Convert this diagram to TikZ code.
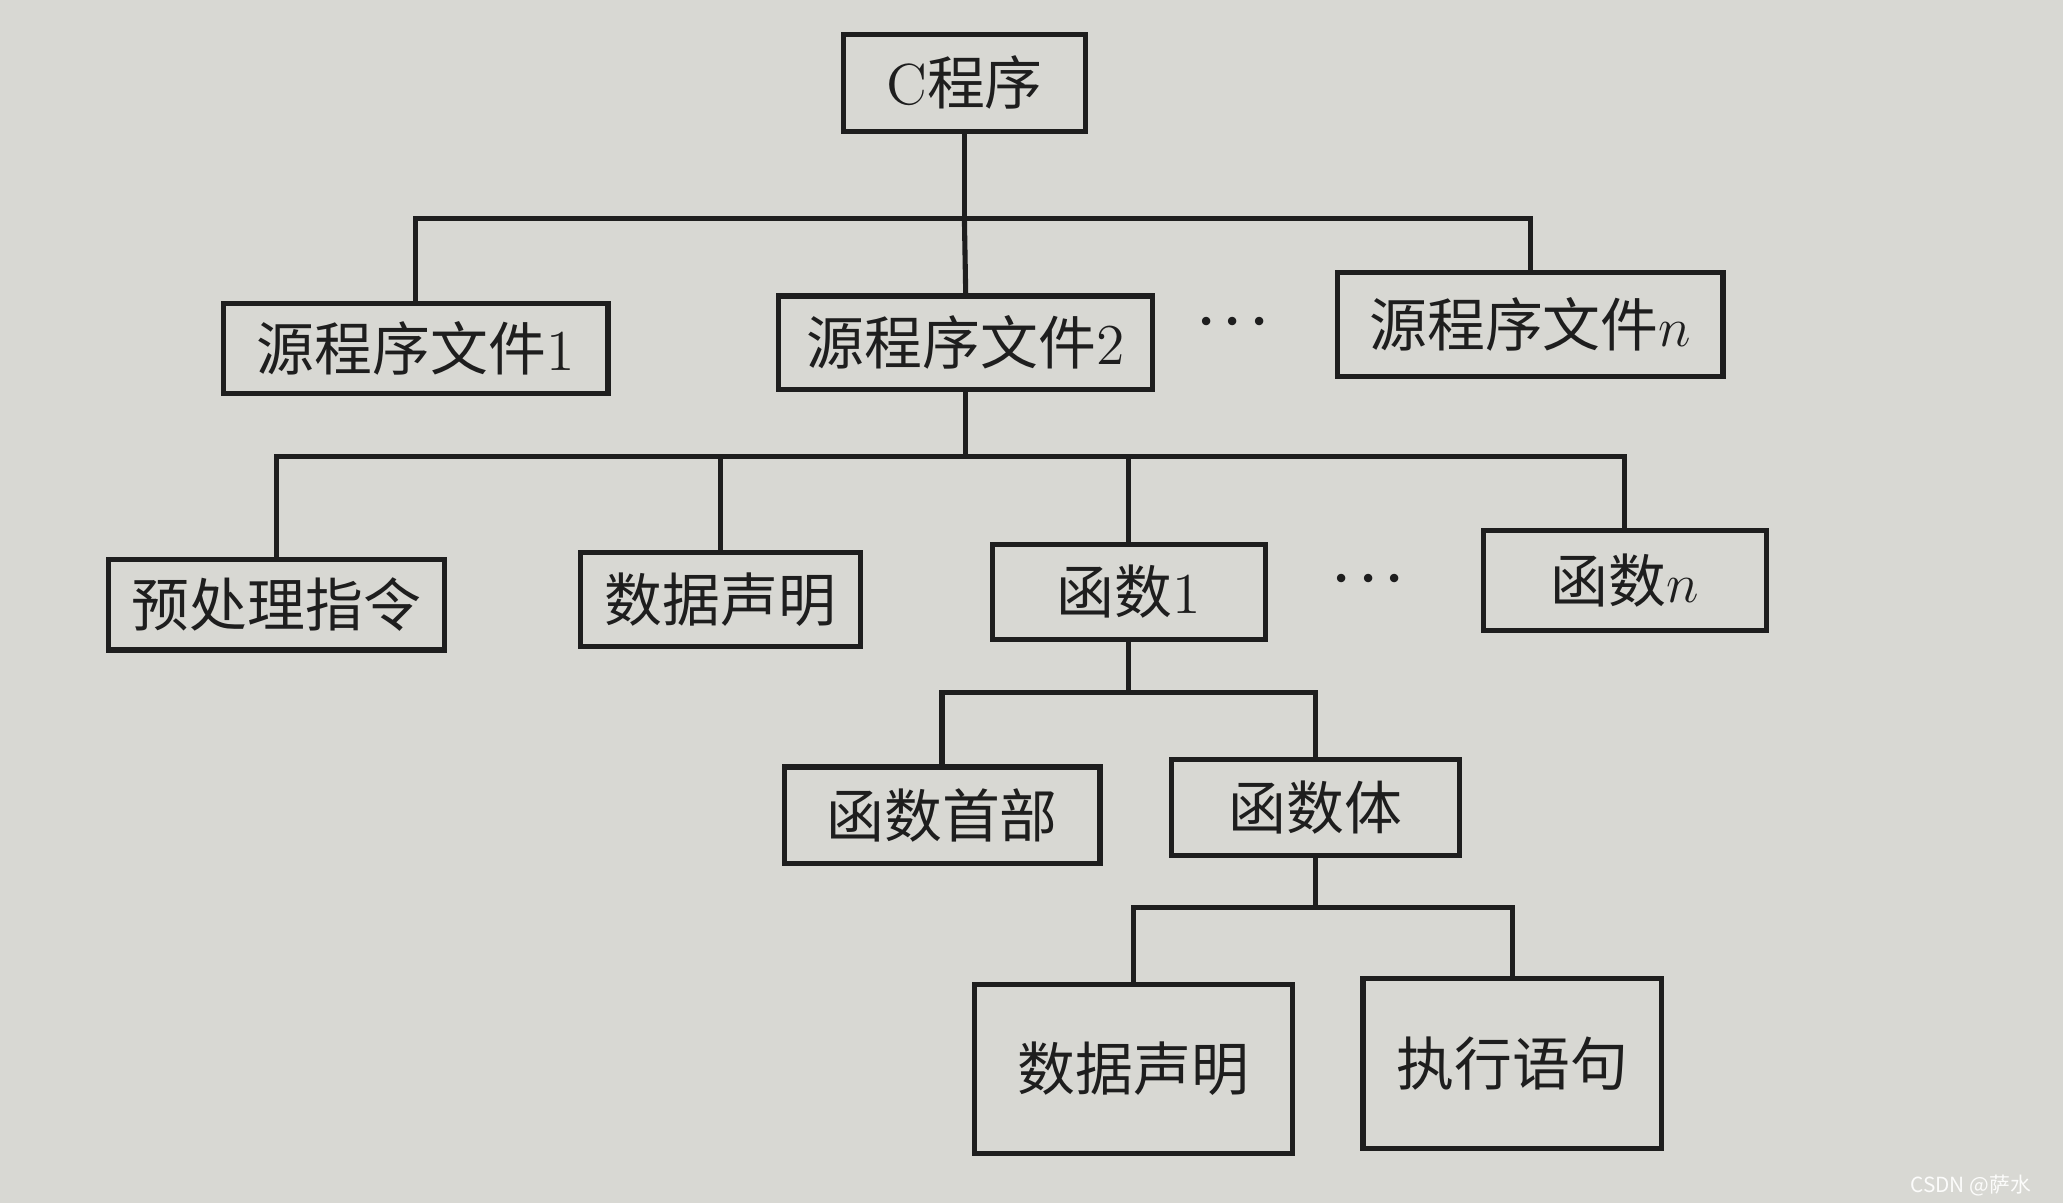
\documentclass[tikz,border=0pt]{standalone}
\usepackage{fontspec}
\newfontfamily\cjk{Noto Sans CJK SC}
\definecolor{paper}{RGB}{216,216,211}
\definecolor{ink}{RGB}{30,30,30}
\tikzset{
  box/.style={draw=ink, line width=1.1pt, fill=paper, inner sep=0pt, text=ink,
    font=\fontsize{12.5}{14}\selectfont},
  wire/.style={draw=ink, line width=1.1pt},
  dotsstyle/.style={text=ink, font=\fontsize{17}{19}\selectfont},
}
\newcommand{\mydots}{$\cdot\mkern-3mu\cdot\mkern-3mu\cdot$}
\begin{document}
\begin{tikzpicture}[x=0.01cm, y=-0.01cm]
\fill[paper] (0,0) rectangle (1568,914);
\useasboundingbox (0,0) rectangle (1568,914);

% nodes
\node[box, minimum width=1.84cm, minimum height=0.74cm] (c) at (733,63) {C{\cjk 程序}};
\node[box, minimum width=2.92cm, minimum height=0.68cm] (f1) at (316,265) {{\cjk 源程序文件}1};
\node[box, minimum width=2.84cm, minimum height=0.71cm] (f2) at (734,260.5) {{\cjk 源程序文件}2};
\node[box, minimum width=2.93cm, minimum height=0.79cm] (fn) at (1163,246.5) {{\cjk 源程序文件}$n$};
\node[dotsstyle] (dots1) at (937,246) {\mydots};

\node[box, minimum width=2.55cm, minimum height=0.69cm] (p) at (210,459.5) {\cjk 预处理指令};
\node[box, minimum width=2.13cm, minimum height=0.71cm] (d1) at (547.5,455.5) {\cjk 数据声明};
\node[box, minimum width=2.07cm, minimum height=0.72cm] (h1) at (858,450) {{\cjk 函数}1};
\node[dotsstyle] (dots2) at (1040,441) {\mydots};
\node[box, minimum width=2.15cm, minimum height=0.76cm] (hn) at (1235,441) {{\cjk 函数}$n$};

\node[box, minimum width=2.40cm, minimum height=0.73cm] (hs) at (716,619.5) {\cjk 函数首部};
\node[box, minimum width=2.19cm, minimum height=0.73cm] (ht) at (1000,613.5) {\cjk 函数体};

\node[box, minimum width=2.41cm, minimum height=1.29cm] (d2) at (861.5,812.5) {\cjk 数据声明};
\node[box, minimum width=2.27cm, minimum height=1.29cm] (zx) at (1149.5,808.5) {\cjk 执行语句};

% bus points
\coordinate (b1) at (733,166);
\coordinate (b2) at (734,347);
\coordinate (b3) at (858,526);
\coordinate (b4) at (1000,690);

% connectors
\draw[wire] (c.south) -- (b1);
\draw[wire] (b1) -| (f1.north);
\draw[wire] (b1) -- (f2.north);
\draw[wire] (b1) -| (fn.north);

\draw[wire] (f2.south) -- (b2);
\draw[wire] (b2) -| (p.north);
\draw[wire] (b2) -| (d1.north);
\draw[wire] (b2) -| (h1.north);
\draw[wire] (b2) -| (hn.north);

\draw[wire] (h1.south) -- (b3);
\draw[wire] (b3) -| (hs.north);
\draw[wire] (b3) -| (ht.north);

\draw[wire] (ht.south) -- (b4);
\draw[wire] (b4) -| (d2.north);
\draw[wire] (b4) -| (zx.north);

% watermark
\node[text=white!92!paper, font=\cjk\fontsize{4.5}{5}\selectfont, anchor=east] (wm) at (1556,901) {CSDN @萨水};
\end{tikzpicture}
\end{document}
